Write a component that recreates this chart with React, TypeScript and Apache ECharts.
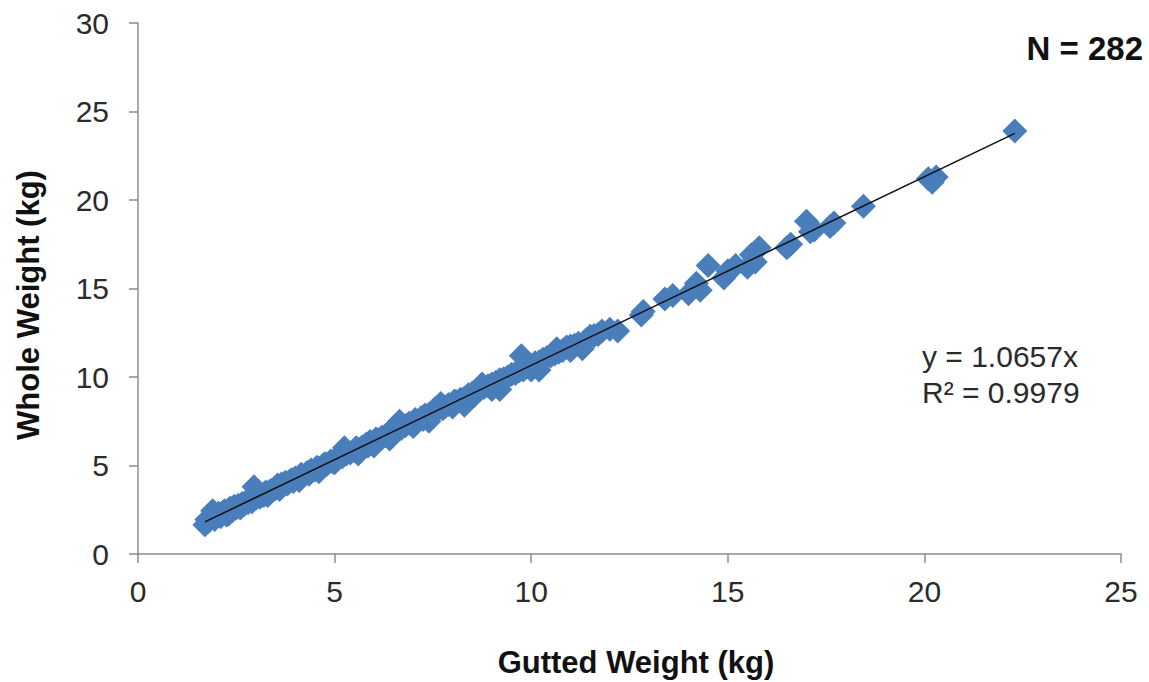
import React, { useEffect, useRef } from "react";
import * as echarts from "echarts";

const xTicks = [0, 5, 10, 15, 20, 25];
const yTicks = [0, 5, 10, 15, 20, 25, 30];
const slope = 1.0657;
const rSquared = 0.9979;
const nCount = 282;

const gutted = [
  1.7, 1.75, 1.8, 1.85, 1.9, 1.95, 2.0, 2.05, 2.1, 2.15, 2.2, 2.25, 2.3, 2.3, 2.35, 2.4, 2.45, 2.5, 2.55, 2.6,
  2.65, 2.7, 2.75, 2.8, 2.85, 2.9, 2.95, 3.0, 3.05, 3.1, 3.15, 3.2, 3.25, 3.3, 3.3, 3.35, 3.4, 3.45, 3.5, 3.55,
  3.6, 3.65, 3.7, 3.75, 3.8, 3.85, 3.9, 3.95, 4.0, 4.1, 4.1, 4.15, 4.2, 4.3, 4.35, 4.4, 4.5, 4.55, 4.6, 4.7,
  4.75, 4.8, 4.9, 4.95, 5.0, 5.0, 5.1, 5.2, 5.25, 5.3, 5.4, 5.5, 5.55, 5.6, 5.7, 5.8, 5.85, 5.9, 6.0, 6.0,
  6.05, 6.1, 6.2, 6.3, 6.35, 6.4, 6.5, 6.6, 6.65, 6.7, 6.8, 6.9, 7.0, 7.0, 7.05, 7.1, 7.2, 7.25, 7.3, 7.4,
  7.5, 7.55, 7.6, 7.7, 7.75, 7.8, 7.9, 8.0, 8.0, 8.05, 8.1, 8.2, 8.3, 8.4, 8.5, 8.55, 8.6, 8.7, 8.75, 8.8,
  8.9, 9.0, 9.0, 9.1, 9.2, 9.3, 9.4, 9.5, 9.6, 9.7, 9.75, 9.8, 9.9, 10.0, 10.0, 10.1, 10.2, 10.3, 10.4, 10.5,
  10.6, 10.65, 10.7, 10.8, 10.9, 11.0, 11.0, 11.1, 11.2, 11.4, 11.5, 11.6, 11.7, 11.8, 12.0, 12.2, 12.8, 12.85,
  13.4, 13.6, 14.0, 14.2, 14.3, 14.5, 14.9, 15.0, 15.2, 15.5, 15.6, 15.7, 15.8, 16.5, 16.6, 17.0, 17.1, 17.2,
  17.6, 17.7, 18.45, 20.1, 20.2, 20.3, 22.3,
  2.6, 3.6, 4.6, 5.6, 6.4, 7.4, 8.3, 9.2, 10.2, 11.3,
];

const whole = [
  1.65, 1.95, 1.85, 2.1, 2.45, 1.95, 2.2, 2.3, 2.1, 2.35, 2.45, 2.2, 2.5, 2.25, 2.6, 2.45, 2.7, 2.6, 2.75, 2.7,
  2.85, 2.8, 2.95, 2.9, 3.1, 2.95, 3.8, 3.15, 3.3, 3.2, 3.35, 3.3, 3.5, 3.45, 3.3, 3.55, 3.6, 3.65, 3.7, 3.9,
  3.75, 3.95, 3.9, 4.05, 3.95, 4.1, 4.2, 4.1, 4.3, 4.3, 4.15, 4.5, 4.4, 4.6, 4.5, 4.75, 4.75, 4.9, 4.85, 5.0,
  5.1, 5.05, 5.25, 5.2, 5.3, 5.15, 5.4, 5.5, 6.0, 5.65, 5.7, 5.85, 6.0, 5.9, 6.05, 6.2, 6.1, 6.35, 6.3, 6.1,
  6.5, 6.45, 6.6, 6.7, 6.75, 6.9, 6.9, 7.1, 7.5, 7.1, 7.25, 7.4, 7.4, 7.2, 7.6, 7.5, 7.7, 7.6, 7.85, 7.9,
  7.95, 8.2, 8.1, 8.5, 8.2, 8.3, 8.45, 8.5, 8.3, 8.65, 8.6, 8.75, 8.8, 9.0, 9.1, 8.95, 9.25, 9.3, 9.6, 9.4,
  9.5, 9.6, 9.3, 9.7, 9.85, 9.9, 10.0, 10.15, 10.2, 10.35, 11.2, 10.4, 10.6, 10.65, 10.4, 10.8, 10.85, 11.0, 11.1, 11.2,
  11.3, 11.6, 11.4, 11.5, 11.7, 11.75, 11.5, 11.8, 11.9, 12.1, 12.3, 12.35, 12.4, 12.6, 12.7, 12.6, 13.5, 13.7,
  14.4, 14.6, 14.7, 15.3, 14.9, 16.3, 15.6, 16.0, 16.3, 16.2, 16.9, 16.5, 17.3, 17.3, 17.5, 18.8, 18.2, 18.3,
  18.5, 18.7, 19.65, 21.2, 21.0, 21.3, 23.9,
  2.6, 3.65, 4.65, 5.65, 6.5, 7.5, 8.4, 9.3, 10.4, 11.6,
];

const FONT = '"Liberation Sans", Arial, sans-serif';

export default function App() {
  const ref = useRef<HTMLDivElement>(null);

  useEffect(() => {
    if (!ref.current) return;
    const chart = echarts.init(ref.current, null, { renderer: "svg" });
    const points = gutted.map((g, i) => [g, whole[i]]);
    const minX = Math.min(...gutted);
    const maxX = Math.max(...gutted);
    const trend = [
      [minX, slope * minX],
      [maxX, slope * maxX],
    ];
    const axisLine = { show: true, lineStyle: { color: "#8c8c8c", width: 1.5 } };
    chart.setOption({
      animation: false,
      backgroundColor: "#ffffff",
      grid: { left: 138, right: 28, top: 23, bottom: 128, containLabel: false },
      xAxis: {
        type: "value",
        min: xTicks[0],
        max: xTicks[xTicks.length - 1],
        interval: 5,
        axisLine,
        axisTick: { show: true, inside: false, length: 9, lineStyle: { color: "#8c8c8c", width: 1.5 } },
        splitLine: { show: false },
        axisLabel: { color: "#2b2b2b", fontSize: 30, fontFamily: FONT, margin: 22 },
      },
      yAxis: {
        type: "value",
        min: yTicks[0],
        max: yTicks[yTicks.length - 1],
        interval: 5,
        axisLine,
        axisTick: { show: true, inside: false, length: 9, lineStyle: { color: "#8c8c8c", width: 1.5 } },
        splitLine: { show: false },
        axisLabel: { color: "#2b2b2b", fontSize: 30, fontFamily: FONT, margin: 29 },
      },
      series: [
        {
          type: "scatter",
          data: points,
          symbol: "diamond",
          symbolSize: 25,
          itemStyle: { color: "#4a7ebb", opacity: 1 },
          z: 2,
        },
        {
          type: "line",
          data: trend,
          symbol: "none",
          lineStyle: { color: "#111111", width: 1.5 },
          z: 3,
        },
      ],
      graphic: [
        {
          type: "text",
          x: 636,
          y: 662,
          style: {
            text: "Gutted Weight (kg)",
            font: `bold 31px ${FONT}`,
            fill: "#111111",
            textAlign: "center",
            textVerticalAlign: "middle",
          },
        },
        {
          type: "text",
          x: 28,
          y: 305,
          rotation: Math.PI / 2,
          style: {
            text: "Whole Weight (kg)",
            font: `bold 31px ${FONT}`,
            fill: "#111111",
            textAlign: "center",
            textVerticalAlign: "middle",
          },
        },
        {
          type: "text",
          x: 1143,
          y: 48,
          style: {
            text: `N = ${nCount}`,
            font: `bold 33px ${FONT}`,
            fill: "#111111",
            textAlign: "right",
            textVerticalAlign: "middle",
          },
        },
        {
          type: "text",
          x: 922,
          y: 356,
          style: {
            text: `y = ${slope.toFixed(4)}x`,
            font: `30px ${FONT}`,
            fill: "#2b2b2b",
            textAlign: "left",
            textVerticalAlign: "middle",
          },
        },
        {
          type: "text",
          x: 922,
          y: 392,
          style: {
            text: `R² = ${rSquared.toFixed(4)}`,
            font: `30px ${FONT}`,
            fill: "#2b2b2b",
            textAlign: "left",
            textVerticalAlign: "middle",
          },
        },
      ],
    });
    return () => chart.dispose();
  }, []);

  return <div ref={ref} style={{ width: 1149, height: 682, position: "absolute", left: 0, top: 0 }} />;
}
